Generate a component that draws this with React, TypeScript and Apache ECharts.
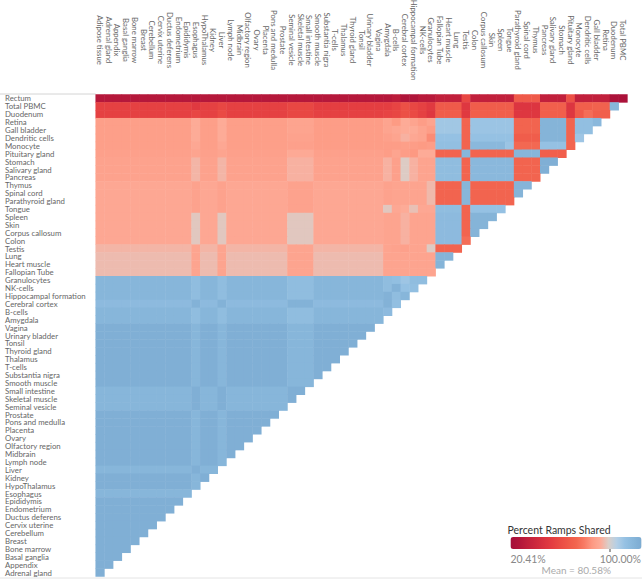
import React, { useEffect, useRef } from "react";
import * as echarts from "echarts";

const columnLabels = ["Adipose tissue","Adrenal gland","Appendix","Basal ganglia","Bone marrow","Breast","Cerebellum","Cervix uterine","Ductus deferens","Endometrium","Epididymis","Esophagus","HypoThalamus","Kidney","Liver","Lymph node","Midbrain","Olfactory region","Ovary","Placenta","Pons and medulla","Prostate","Seminal vesicle","Skeletal muscle","Small intestine","Smooth muscle","Substantia nigra","T-cells","Thalamus","Thyroid gland","Tonsil","Urinary bladder","Vagina","Amygdala","B-cells","Cerebral cortex","Hippocampal formation","NK-cells","Granulocytes","Fallopian Tube","Heart muscle","Lung","Testis","Colon","Corpus callosum","Skin","Spleen","Tongue","Parathyroid gland","Spinal cord","Thymus","Pancreas","Salivary gland","Stomach","Pituitary gland","Monocyte","Dendritic cells","Gall bladder","Retina","Duodenum","Total PBMC"];
const rowLabels = ["Rectum","Total PBMC","Duodenum","Retina","Gall bladder","Dendritic cells","Monocyte","Pituitary gland","Stomach","Salivary gland","Pancreas","Thymus","Spinal cord","Parathyroid gland","Tongue","Spleen","Skin","Corpus callosum","Colon","Testis","Lung","Heart muscle","Fallopian Tube","Granulocytes","NK-cells","Hippocampal formation","Cerebral cortex","B-cells","Amygdala","Vagina","Urinary bladder","Tonsil","Thyroid gland","Thalamus","T-cells","Substantia nigra","Smooth muscle","Small intestine","Skeletal muscle","Seminal vesicle","Prostate","Pons and medulla","Placenta","Ovary","Olfactory region","Midbrain","Lymph node","Liver","Kidney","HypoThalamus","Esophagus","Epididymis","Endometrium","Ductus deferens","Cervix uterine","Cerebellum","Breast","Bone marrow","Basal ganglia","Appendix","Adrenal gland"];

// How many neighbouring columns share each value.
const columnSpans = [11,1,2,1,7,3,8,1,1,1,1,1,1,3,1,4,1,3,3,1,1,1,1,1,1,1];

// Percent ramps shared, row by row, one value per column span.
const rectum = [27,27,27,27,27,27,27,27,29,25,25,28,28,31,49,31,31,56,31,52,31,31,31,31,23,23];
const totalPbmc = [47,44,47,49,47,49,46,46,48,52,49,47,44,56,43,57,57,42,58,42,58,58,59,59,95];
const duodenum = [47,49,47,50,47,49,47,48,49,52,50,47,43,57,44,58,58,43,58,43,56,62,58,58];
const retina = [71.5,75,71.5,75,71.5,73,71,73,70.5,75,73,71,73,88,60,89,89,60,96,60,91,91,94];
const gallBladder = [71.5,75,71.5,75,71.5,73,71,73,74,75,75,73,71,88,60,89,89,60,96,60,91,91];
const dendriticCells = [71.5,75,71.5,75,71.5,72.5,71,72,73,76,74,73,68,90,60,90,90,57,96,60,88.5];
const monocyte = [71.5,74,71.5,74,71.5,72,71,71,71,71.5,71,70.5,71,91,60,94,89,61,90,60];
const pituitaryGland = [72,73,72,73,72,74.5,72,71,73,71,70,75,75,60,95,60,60,95,58];
const stomach = [72.5,76.5,72.5,76.5,72.5,76,72.5,76,72,79.5,76,73,73,92,60,94,94,60,98];
const salivaryGland = [72.5,76.5,72.5,76.5,72.5,76,72.5,76,72,79.5,76,73,73,92,60,94,94,60,98];
const pancreas = [72.5,76.5,72.5,76.5,72.5,76,72.5,76,72,79.5,76,73,73,92,60,94,94,60];
const thymus = [74,72.5,74,72.5,74,72.5,74,72.5,73,73,73,73,77,60,95,60,60,96];
const spinalCord = [74,72.5,74,72.5,74,72.5,74,72.5,73,73,73,73,77,60,95,60,60,96];
const parathyroidGland = [74,72.5,74,72.5,74,72.5,74,72.5,73,73,73,73,77,60,95,60,60];
const tongue = [74,72.5,74,72.5,74,72.5,74,79,74,75,78,74,74,92,60,90];
const spleen = [74,79,74,79,74,79,74,73,73,76,73,73,73,93,60,96];
const skin = [74,79,74,79,74,79,74,73,73,76,73,73,73,93,60,96];
const corpusCallosum = [74,79,74,79,74,79,74,73,73,76,73,73,73,93,60,96];
const colon = [74,79,74,79,74,79,74,73,73,76,73,73,73,93,62];
const testis = [76.5,73,76.5,73,76.5,73,76.5,73,72.5,72,73,73,79.5,60];
const lung = [77.4,73,77.4,73,77.4,73,77.4,73,73,73,73,73,73,96];
const heartMuscle = [77.4,73,77.4,73,77.4,73,77.4,73,73,73,73,73,73,96];
const fallopianTube = [77.4,73,77.4,73,77.4,73,77.4,73,73,73,73,73,73];
const granulocytes = [95,92,95,92,95,92,95,92,91,88.5,92,92];
const nkCells = [95,92,95,92,95,92,95,92,97,90,91];
const hippocampalFormation = [95,92,95,92,95,92,95,97,92,95];
const cerebralCortex = [93,97,93,97,93,97,93,97,91];
const bCells = [95,92,95,92,95,92,95,93];
const amygdala = [95,92,95,92,95,92,95];
const deepBlueRow = [98,95,98,95,98,95,98];
const midBlueRow = [95,98,95,98,95,98];
const prostateRow = [98,95,98,95,98];
const liver = [95,98,95];
const kidney = [98,95,98];
const hypoThalamus = [98,95];
const esophagus = [95];
const lastRow = [98];

const rowValues = [rectum,totalPbmc,duodenum,retina,gallBladder,dendriticCells,monocyte,pituitaryGland,stomach,salivaryGland,pancreas,thymus,spinalCord,parathyroidGland,tongue,spleen,skin,corpusCallosum,colon,testis,lung,heartMuscle,fallopianTube,granulocytes,nkCells,hippocampalFormation,cerebralCortex,bCells,amygdala,
  deepBlueRow,deepBlueRow,deepBlueRow,deepBlueRow,deepBlueRow,deepBlueRow,deepBlueRow,deepBlueRow,
  midBlueRow,midBlueRow,midBlueRow,
  prostateRow,prostateRow,prostateRow,prostateRow,prostateRow,prostateRow,prostateRow,
  liver,kidney,hypoThalamus,esophagus,
  lastRow,lastRow,lastRow,lastRow,lastRow,lastRow,lastRow,lastRow,lastRow,lastRow];

const rampColors = ["#a50f3a","#b0153a","#bf1f3c","#cc283d","#d8313f","#e33c41","#ea4b44","#ef5849","#f2654f","#f87a64","#fd9a83","#fdab98","#d9cfca","#b3cfe6","#95c1e3","#87b6da","#7cabd2"];

const minValue = 20.41;
const maxValue = 100;

function buildCells(): [number, number, number][] {
  const spanOfColumn: number[] = [];
  columnSpans.forEach((span, s) => {
    for (let i = 0; i < span; i++) spanOfColumn.push(s);
  });
  const cells: [number, number, number][] = [];
  rowValues.forEach((values, r) => {
    const count = columnLabels.length - r;
    for (let c = 0; c < count; c++) {
      cells.push([c, r, values[spanOfColumn[c]]]);
    }
  });
  return cells;
}

const font = "Lato, 'Open Sans', sans-serif";

export default function App() {
  const ref = useRef<HTMLDivElement>(null);
  useEffect(() => {
    const chart = echarts.init(ref.current!, undefined, { renderer: "svg" });
    chart.setOption({
      animation: false,
      backgroundColor: "#ffffff",
      grid: { left: 95.7, top: 94.5, width: 531.7, height: 482, containLabel: false, outerBoundsMode: "none" },
      xAxis: {
        type: "category",
        position: "top",
        data: columnLabels,
        axisLine: { show: false },
        axisTick: { show: false },
        splitLine: { show: false },
        axisLabel: {
          interval: 0,
          rotate: 90,
          align: "center",
          verticalAlign: "middle",
          margin: 54.5,
          fontSize: 7.8,
          color: "#666666",
          fontFamily: font,
        },
      },
      yAxis: {
        type: "category",
        inverse: true,
        data: rowLabels,
        axisLine: { show: false },
        axisTick: { show: false },
        splitLine: { show: false },
        axisLabel: {
          interval: 0,
          align: "left",
          margin: 90.7,
          fontSize: 7.8,
          color: "#666666",
          fontFamily: font,
        },
      },
      visualMap: {
        type: "continuous",
        dimension: 2,
        seriesIndex: 0,
        min: minValue,
        max: maxValue,
        orient: "horizontal",
        left: 510.5,
        top: 537,
        itemWidth: 12,
        itemHeight: 131,
        padding: 0,
        calculable: false,
        hoverLink: false,
        inRange: { color: rampColors },
      },
      series: [
        {
          type: "heatmap",
          data: buildCells(),
          silent: true,
          progressive: 0,
          itemStyle: { borderWidth: 0 },
          emphasis: { disabled: true },
        },
      ],
      graphic: [
        { type: "line", shape: { x1: 0, y1: 94, x2: 95.7, y2: 94 }, style: { stroke: "#d4d4d4", lineWidth: 1 }, silent: true },
        { type: "line", shape: { x1: 0, y1: 578, x2: 642, y2: 578 }, style: { stroke: "#e4e4e4", lineWidth: 1 }, silent: true },
        { type: "line", shape: { x1: 610, y1: 547, x2: 610, y2: 552 }, style: { stroke: "#444444", lineWidth: 1 }, silent: true },
        { type: "text", x: 507.5, y: 524, silent: true, style: { text: "Percent Ramps Shared", fontSize: 10.5, fill: "#333333", fontFamily: font } },
        { type: "text", x: 510.5, y: 553, silent: true, style: { text: "20.41%", fontSize: 10.5, fill: "#888888", fontFamily: font } },
        { type: "text", x: 641, y: 553, silent: true, style: { text: "100.00%", fontSize: 10.5, fill: "#888888", fontFamily: font, align: "right" } },
        { type: "text", x: 541.5, y: 565, silent: true, style: { text: "Mean = 80.58%", fontSize: 10, fill: "#aaaaaa", fontFamily: font } },
      ],
    });
    return () => chart.dispose();
  }, []);
  return <div ref={ref} style={{ position: "absolute", left: 0, top: 0, width: 642, height: 579 }} />;
}
